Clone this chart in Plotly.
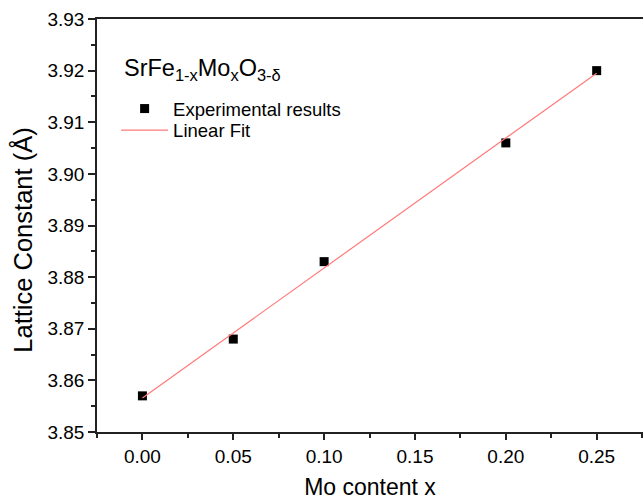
import numpy as np
import plotly.graph_objects as go

mo_content = [0.00, 0.05, 0.10, 0.20, 0.25]
lattice_constant = [3.857, 3.868, 3.883, 3.906, 3.920]
x_ticks = [0.00, 0.05, 0.10, 0.15, 0.20, 0.25]
x_tick_labels = ["0.00", "0.05", "0.10", "0.15", "0.20", "0.25"]
y_ticks = [3.85, 3.86, 3.87, 3.88, 3.89, 3.90, 3.91, 3.92, 3.93]
y_tick_labels = ["3.85", "3.86", "3.87", "3.88", "3.89", "3.90", "3.91", "3.92", "3.93"]

slope, intercept = np.polyfit(mo_content, lattice_constant, 1)
fit_x = [min(mo_content), max(mo_content)]
fit_y = [slope * v + intercept for v in fit_x]

FONT = "Arial, Liberation Sans, sans-serif"

fig = go.Figure()
fig.add_trace(go.Scatter(
    x=mo_content, y=lattice_constant, mode="markers", name="Experimental results",
    marker=dict(symbol="square", size=9, color="black"), legend="legend",
))
fig.add_trace(go.Scatter(
    x=fit_x, y=fit_y, mode="lines", name="Linear Fit",
    line=dict(color="#ff7a7a", width=1.2), legend="legend2",
))

legend_common = dict(xanchor="left", yanchor="top", bgcolor="rgba(0,0,0,0)",
                     font=dict(size=18.5, family=FONT), itemwidth=47)

fig.update_layout(
    width=643, height=500,
    margin=dict(l=97, r=0, t=19, b=68),
    paper_bgcolor="white", plot_bgcolor="white",
    font=dict(family=FONT, color="black"),
    showlegend=True,
    legend=dict(x=0.035, y=0.828, **legend_common),
    legend2=dict(x=0.035, y=0.776, **legend_common),
    annotations=[
        dict(text="SrFe<sub>1-x</sub>Mo<sub>x</sub>O<sub>3-δ</sub>",
             xref="paper", yref="paper", x=0.045, y=0.878, xanchor="left", yanchor="middle",
             showarrow=False, font=dict(size=23.5, family=FONT)),
        dict(text="Lattice Constant (Å)", xref="paper", yref="paper",
             x=-0.136, y=0.465, xanchor="center", yanchor="middle", textangle=-90,
             showarrow=False, font=dict(size=25.5, family=FONT)),
    ],
)
fig.update_xaxes(
    range=[-0.025, 0.2755], tickmode="array", tickvals=x_ticks, ticktext=x_tick_labels,
    showgrid=False, zeroline=False, showline=True, linecolor="#222", linewidth=1.5,
    mirror=True, ticks="outside", ticklen=6, tickwidth=1.5, tickcolor="#222",
    tickfont=dict(size=19),
    minor=dict(tickvals=[-0.025, 0.025, 0.075, 0.125, 0.175, 0.225, 0.275],
               ticks="outside", ticklen=4, tickwidth=1.5, tickcolor="#222"),
    title=dict(text="Mo content x", font=dict(size=23), standoff=14),
)
fig.update_yaxes(
    range=[3.85, 3.93], tickmode="array", tickvals=y_ticks, ticktext=y_tick_labels,
    showgrid=False, zeroline=False, showline=True, linecolor="#222", linewidth=1.5,
    mirror=False, ticks="outside", ticklen=7, tickwidth=1.5, tickcolor="#222",
    tickfont=dict(size=19),
    minor=dict(tickvals=[3.855, 3.865, 3.875, 3.885, 3.895, 3.905, 3.915, 3.925],
               ticks="outside", ticklen=4, tickwidth=1.5, tickcolor="#222"),
)

fig.write_html("out.html")
